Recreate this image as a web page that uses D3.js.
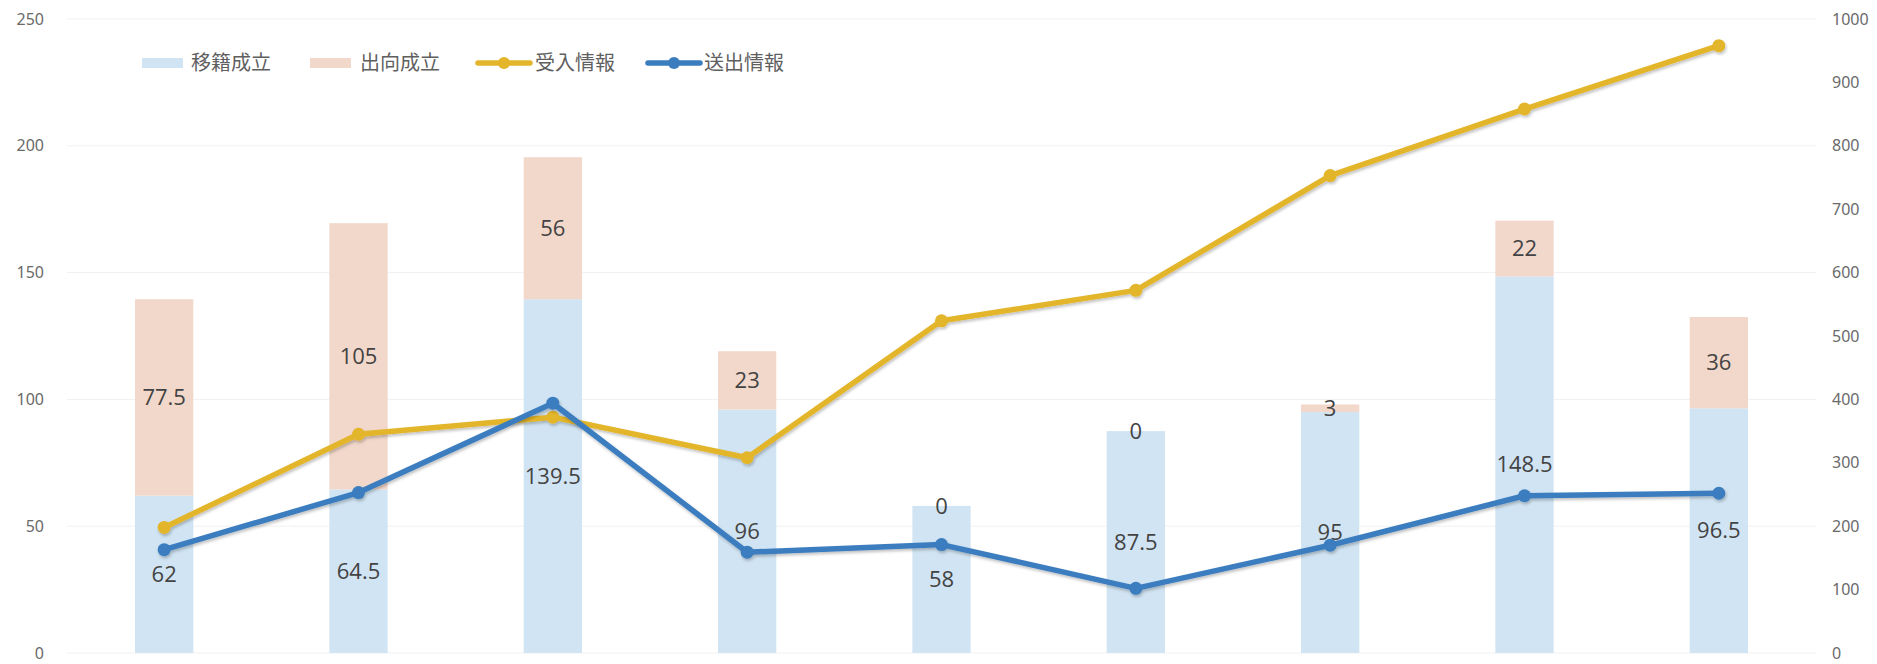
<!DOCTYPE html>
<html>
<head>
<meta charset="utf-8">
<script src="https://cdn.jsdelivr.net/npm/d3@7/dist/d3.min.js"></script>
<style>
  body { margin: 0; background: #ffffff; }
  svg { display: block; }
</style>
</head>
<body>
<svg id="chart" width="1877" height="664"></svg>
<script>
// Nine periods, no axis labels on the category axis
const periods = [1, 2, 3, 4, 5, 6, 7, 8, 9];

// Stacked bars (left axis)
const transferDone   = [62, 64.5, 139.5, 96, 58, 87.5, 95, 148.5, 96.5];   // 移籍成立
const secondmentDone = [77.5, 105, 56, 23, 0, 0, 3, 22, 36];               // 出向成立

// Lines (right axis)
const infoReceived = [198, 345, 372, 308, 524, 572, 753, 858, 958];        // 受入情報
const infoSent     = [163, 253, 394, 159, 171, 102, 170, 248, 252];        // 送出情報

const leftTicks  = [0, 50, 100, 150, 200, 250];
const rightTicks = [0, 100, 200, 300, 400, 500, 600, 700, 800, 900, 1000];

const seriesNames = ["移籍成立", "出向成立", "受入情報", "送出情報"];
const barColors  = ["#d1e4f3", "#f2d8ca"];
const lineColors = ["#e3b52a", "#3a7dbf"];

const svg = d3.select("#chart");
const plot = { left: 67, right: 1816, top: 19, bottom: 653 };

const x = d3.scaleBand()
  .domain(periods)
  .range([plot.left, plot.right])
  .paddingInner(0.7)
  .paddingOuter(0.35);

const yL = d3.scaleLinear().domain([0, 250]).range([plot.bottom, plot.top]);
const yR = d3.scaleLinear().domain([0, 1000]).range([plot.bottom, plot.top]);

// soft shadow under the lines
const defs = svg.append("defs");
const f = defs.append("filter").attr("id", "lineShadow")
  .attr("x", "-5%").attr("y", "-20%").attr("width", "110%").attr("height", "140%");
f.append("feDropShadow").attr("dx", 1).attr("dy", 2).attr("stdDeviation", 1.6)
  .attr("flood-color", "#000").attr("flood-opacity", 0.25);

// faint horizontal gridlines
svg.append("g").selectAll("line")
  .data(leftTicks)
  .join("line")
  .attr("x1", plot.left).attr("x2", plot.right)
  .attr("y1", d => yL(d)).attr("y2", d => yL(d))
  .attr("stroke", "#f1f1f1").attr("stroke-width", 1);

// axes
const tickFont = "'Noto Sans', 'DejaVu Sans', sans-serif";
const leftAxis = svg.append("g")
  .attr("transform", `translate(${plot.left - 17},0)`)
  .call(d3.axisLeft(yL).tickValues(leftTicks).tickSize(0).tickPadding(6)
    .tickFormat(d3.format("d")));
const rightAxis = svg.append("g")
  .attr("transform", `translate(${plot.right + 10},0)`)
  .call(d3.axisRight(yR).tickValues(rightTicks).tickSize(0).tickPadding(6)
    .tickFormat(d3.format("d")));
[leftAxis, rightAxis].forEach(g => {
  g.select(".domain").remove();
  g.selectAll("text")
    .attr("font-family", tickFont)
    .attr("font-size", 16)
    .attr("fill", "#6a6a6a");
});

// stacked bars
const rows = periods.map((p, i) => ({ period: p, a: transferDone[i], b: secondmentDone[i] }));
const stacked = d3.stack().keys(["a", "b"])(rows);

const barG = svg.append("g");
stacked.forEach((layer, li) => {
  barG.append("g")
    .selectAll("rect")
    .data(layer)
    .join("rect")
    .attr("x", d => x(d.data.period))
    .attr("width", x.bandwidth())
    .attr("y", d => yL(d[1]))
    .attr("height", d => yL(d[0]) - yL(d[1]))
    .attr("fill", barColors[li]);
});

// value labels centred in each segment
const labelFont = "'Open Sans', 'Noto Sans', sans-serif";
stacked.forEach((layer, li) => {
  barG.append("g")
    .selectAll("text")
    .data(layer)
    .join("text")
    .attr("x", d => x(d.data.period) + x.bandwidth() / 2)
    .attr("y", d => yL((d[0] + d[1]) / 2))
    .attr("dy", "0.35em")
    .attr("text-anchor", "middle")
    .attr("font-family", labelFont)
    .attr("font-size", 22)
    .attr("fill", "#434343")
    .text(d => d3.format("~g")(d[1] - d[0]));
});

// lines on the right axis
const cx = p => x(p) + x.bandwidth() / 2;
[infoReceived, infoSent].forEach((vals, li) => {
  const pts = periods.map((p, i) => [cx(p), yR(vals[i])]);
  const g = svg.append("g").attr("filter", "url(#lineShadow)");
  g.append("path")
    .attr("d", d3.line()(pts))
    .attr("fill", "none")
    .attr("stroke", lineColors[li])
    .attr("stroke-width", 5.5)
    .attr("stroke-linejoin", "round");
  g.selectAll("circle")
    .data(pts)
    .join("circle")
    .attr("cx", d => d[0]).attr("cy", d => d[1])
    .attr("r", 6.5)
    .attr("fill", lineColors[li]);
});

// legend
const legendFont = "'Noto Sans CJK JP', 'Noto Sans', sans-serif";
const ly = 63;
const legendItems = [
  { kind: "bar",  color: barColors[0],  x: 142, tx: 191, name: seriesNames[0] },
  { kind: "bar",  color: barColors[1],  x: 310, tx: 360, name: seriesNames[1] },
  { kind: "line", color: lineColors[0], x: 478, tx: 535, name: seriesNames[2] },
  { kind: "line", color: lineColors[1], x: 648, tx: 704, name: seriesNames[3] }
];
const lg = svg.append("g");
legendItems.forEach(it => {
  if (it.kind === "bar") {
    lg.append("rect").attr("x", it.x).attr("y", ly - 5).attr("width", 41).attr("height", 10)
      .attr("fill", it.color);
  } else {
    lg.append("line").attr("x1", it.x).attr("x2", it.x + 52).attr("y1", ly).attr("y2", ly)
      .attr("stroke", it.color).attr("stroke-width", 5.5).attr("stroke-linecap", "round");
    lg.append("circle").attr("cx", it.x + 26).attr("cy", ly).attr("r", 6).attr("fill", it.color);
  }
  lg.append("text").attr("x", it.tx).attr("y", ly).attr("dy", "0.35em")
    .attr("font-family", legendFont).attr("font-size", 20).attr("fill", "#5f5f5f")
    .text(it.name);
});
</script>
</body>
</html>
